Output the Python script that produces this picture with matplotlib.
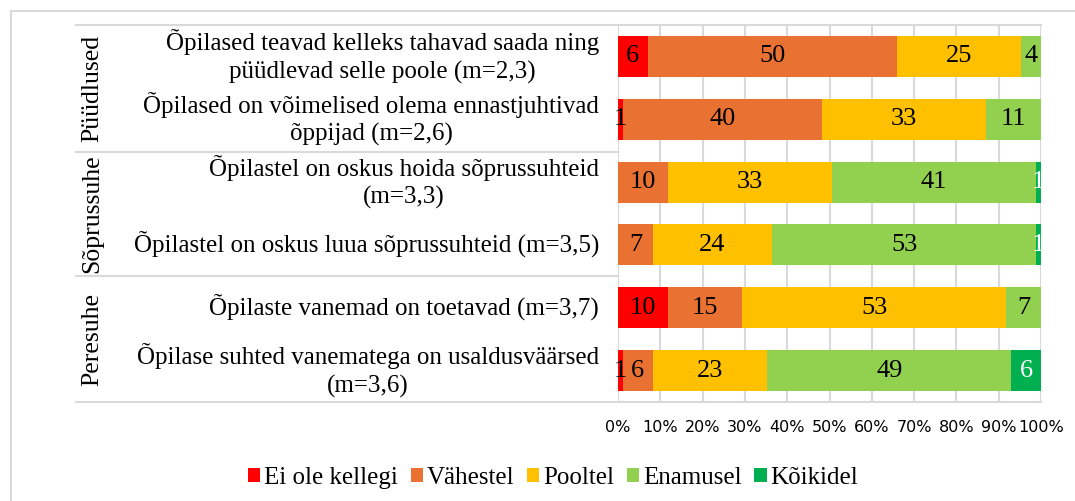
import matplotlib
matplotlib.use("Agg")
import matplotlib.pyplot as plt
import numpy as np
from matplotlib.lines import Line2D

plt.rcParams['font.family'] = ['Liberation Serif', 'DejaVu Serif']

categories = [
    "Õpilased teavad kelleks tahavad saada ning\npüüdlevad selle poole (m=2,3)",
    "Õpilased on võimelised olema ennastjuhtivad\nõppijad (m=2,6)",
    "Õpilastel on oskus hoida sõprussuhteid\n(m=3,3)",
    "Õpilastel on oskus luua sõprussuhteid (m=3,5)",
    "Õpilaste vanemad on toetavad (m=3,7)",
    "Õpilase suhted vanematega on usaldusväärsed\n(m=3,6)",
]
groups = ["Püüdlused", "Sõprussuhe", "Peresuhe"]
series_names = ["Ei ole kellegi", "Vähestel", "Pooltel", "Enamusel", "Kõikidel"]
ei_ole = [6, 1, 0, 0, 10, 1]
vahestel = [50, 40, 10, 7, 15, 6]
pooltel = [25, 33, 33, 24, 53, 23]
enamusel = [4, 11, 41, 53, 7, 49]
koikidel = [0, 0, 1, 1, 0, 6]
colors = ["#FF0000", "#E97132", "#FFC000", "#92D050", "#00B050"]
label_colors = ["black", "black", "black", "black", "white"]
tick_labels = ["0%", "10%", "20%", "30%", "40%", "50%", "60%", "70%", "80%", "90%", "100%"]

W, H = 1075, 501
fig = plt.figure(figsize=(W / 100, H / 100), dpi=100)

def fx(px):
    return px / W

def fy(py):
    return 1 - py / H

ax = fig.add_axes([fx(618), fy(402), fx(1041) - fx(618), fy(25) - fy(402)])

data = np.array([ei_ole, vahestel, pooltel, enamusel, koikidel], dtype=float)
totals = data.sum(axis=0)
pct = data / totals * 100
y = np.arange(len(categories))
left = np.zeros(len(categories))
for i, name in enumerate(series_names):
    bars = ax.barh(y, pct[i], left=left, height=0.65, color=colors[i], label=name, zorder=3)
    for j, b in enumerate(bars):
        v = int(data[i][j])
        if v > 0:
            ax.text(left[j] + pct[i][j] / 2, y[j], str(v), ha='center', va='center',
                    fontsize=19, color=label_colors[i], zorder=4)
    left += pct[i]

ax.set_xlim(0, 100)
ax.set_ylim(len(categories) - 0.5, -0.5)
ax.set_xticks(np.arange(0, 101, 10))
ax.set_xticklabels(tick_labels, fontsize=11.5, family=['DejaVu Sans'])
ax.set_yticks([])
ax.tick_params(axis='x', length=0, pad=13)
ax.grid(axis='x', color='#D9D9D9', linewidth=1.5, zorder=0)
for s in ax.spines.values():
    s.set_visible(False)
ax.axvline(0, color='#D9D9D9', linewidth=1.5, zorder=1)

# category labels
for j, cat in enumerate(categories):
    ax.text(-0.045, y[j], cat, transform=ax.get_yaxis_transform(), ha='right', va='center',
            fontsize=18, linespacing=1.3, multialignment='center')

# horizontal lines of the category axis
for py in [25, 152, 276, 402]:
    fig.add_artist(Line2D([fx(76), fx(1041) if py in (25, 402) else fx(618)], [fy(py), fy(py)],
                          color='#D9D9D9', linewidth=1.5))

# group labels
for g, (top, bot) in zip(groups, [(25, 152), (152, 276), (276, 402)]):
    fig.text(fx(92), fy((top + bot) / 2), g, rotation=90, ha='center', va='center', fontsize=18.5)

# figure border
fig.add_artist(Line2D([fx(11), fx(11)], [fy(11), 0], color='#D9D9D9', linewidth=1.5))
fig.add_artist(Line2D([fx(11), 1], [fy(11), fy(11)], color='#D9D9D9', linewidth=1.5))

handles, labels = ax.get_legend_handles_labels()
fig.legend(handles, labels, loc='center', bbox_to_anchor=(fx(553), fy(478)), ncol=5,
           frameon=False, fontsize=18, handlelength=0.5, handleheight=0.5,
           handletextpad=0.15, columnspacing=0.5)

fig.savefig("out.png", dpi=100)
